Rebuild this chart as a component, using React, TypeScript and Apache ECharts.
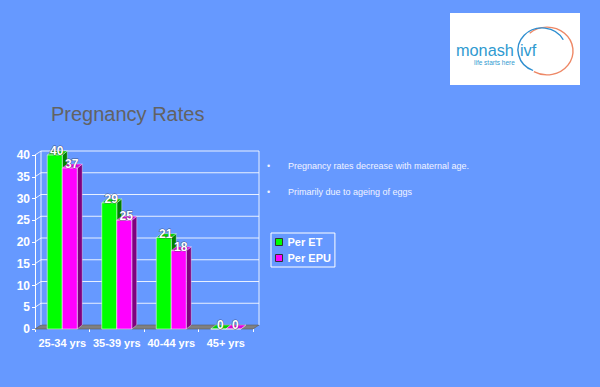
import React, { useEffect, useRef } from "react";
import * as echarts from "echarts";

const categories = ["25-34 yrs", "35-39 yrs", "40-44 yrs", "45+ yrs"];
const perET = [40, 29, 21, 0];
const perEPU = [37, 25, 18, 0];
const yTicks = [0, 5, 10, 15, 20, 25, 30, 35, 40];
const bullets = ["Pregnancy rates decrease with maternal age.", "Primarily due to ageing of eggs"];
const seriesNames = ["Per ET", "Per EPU"];

const FONT = 'Arial, "Liberation Sans", sans-serif';
const BG = "#6699FF";

function makeBarRender(offsetSide: number, front: string, top: string, side: string) {
  return (params: any, api: any) => {
    const idx = api.value(0);
    const val = api.value(1);
    const p0 = api.coord([idx, 0]);
    const p1 = api.coord([idx, val]);
    const cx = p0[0];
    const y0 = p0[1];
    const y1 = p1[1];
    const w = api.size([1, 0])[0] * (15 / 54.5);
    const left = offsetSide < 0 ? cx - w : cx;
    const dx = 5;
    const dy = -4;
    const stroke = "rgba(255,255,255,0.75)";
    return {
      type: "group",
      children: [
        {
          type: "polygon",
          shape: { points: [[left + w, y1], [left + w + dx, y1 + dy], [left + w + dx, y0 + dy], [left + w, y0]] },
          style: { fill: side, stroke, lineWidth: 0.5 },
        },
        {
          type: "polygon",
          shape: { points: [[left, y1], [left + w, y1], [left + w + dx, y1 + dy], [left + dx, y1 + dy]] },
          style: { fill: top, stroke, lineWidth: 0.5 },
        },
        {
          type: "rect",
          shape: { x: left, y: y1, width: w, height: y0 - y1 },
          style: { fill: front, stroke, lineWidth: 0.7 },
        },
        {
          type: "text",
          x: left + w / 2 + 2,
          y: y1 + 2,
          style: {
            text: String(val),
            fill: "#ffffff",
            font: `bold 12px ${FONT}`,
            align: "center",
            verticalAlign: "bottom",
            stroke: "rgba(40,40,40,0.6)",
            lineWidth: 1,
          },
          z2: 10,
        },
      ],
    };
  };
}

export default function App() {
  const ref = useRef<HTMLDivElement>(null);

  useEffect(() => {
    if (!ref.current) return;
    const chart = echarts.init(ref.current, null, { renderer: "svg" });
    const wallRender = (params: any, api: any) => {
      const v = api.value(0);
      const cs = params.coordSys;
      const x0 = cs.x;
      const x1 = cs.x + cs.width;
      const y = api.coord([0, v])[1];
      const yTop = api.coord([0, yTicks[yTicks.length - 1]])[1];
      const dx = 6;
      const dy = -4;
      const line = "rgba(255,255,255,0.85)";
      const children: any[] = [];
      if (v === 0) {
        children.push({
          type: "polygon",
          shape: { points: [[x0, y], [x1, y], [x1 + dx, y + dy], [x0 + dx, y + dy]] },
          style: { fill: "#808080", stroke: "#5a5a5a", lineWidth: 0.6 },
        });
        children.push({
          type: "line",
          shape: { x1: x0 + dx, y1: y + dy, x2: x0 + dx, y2: yTop + dy },
          style: { stroke: line, lineWidth: 1 },
        });
        children.push({
          type: "line",
          shape: { x1: x1 + dx, y1: y + dy, x2: x1 + dx, y2: yTop + dy },
          style: { stroke: line, lineWidth: 1 },
        });
      } else {
        children.push({
          type: "polyline",
          shape: { points: [[x0, y], [x0 + dx, y + dy], [x1 + dx, y + dy]] },
          style: { stroke: line, lineWidth: 1, fill: "none" },
        });
      }
      return { type: "group", children };
    };

    chart.setOption({
      animation: false,
      backgroundColor: BG,
      textStyle: { fontFamily: FONT },
      grid: { left: 35, right: 347, top: 155, bottom: 58, containLabel: false },
      legend: {
        data: seriesNames,
        orient: "vertical",
        left: 271,
        top: 233,
        padding: [2, 4, 2, 4],
        itemGap: 2,
        itemWidth: 7,
        itemHeight: 7,
        icon: "rect",
        borderColor: "#ffffff",
        borderWidth: 1,
        itemStyle: { borderColor: "#333333", borderWidth: 1 },
        textStyle: { color: "#ffffff", fontWeight: "bold", fontSize: 11, fontFamily: FONT, lineHeight: 14, padding: [0, 0, 0, 0] },
      },
      xAxis: {
        type: "category",
        data: categories,
        axisLine: { show: false },
        axisTick: { show: true, length: 3, interval: 0, lineStyle: { color: "#ffffff" } },
        axisLabel: { color: "#ffffff", fontWeight: "bold", fontSize: 11, fontFamily: FONT, margin: 8, interval: 0 },
        splitLine: { show: false },
      },
      yAxis: {
        type: "value",
        min: 0,
        max: 40,
        interval: 5,
        axisLine: { show: true, lineStyle: { color: "#ffffff" } },
        axisTick: { show: true, length: 3, lineStyle: { color: "#ffffff" } },
        axisLabel: { color: "#ffffff", fontWeight: "bold", fontSize: 12, fontFamily: FONT, margin: 5 },
        splitLine: { show: false },
      },
      graphic: [
        { type: "rect", shape: { x: 450, y: 13, width: 130, height: 72 }, style: { fill: "#ffffff" } },
        {
          type: "arc",
          x: 547,
          y: 51,
          scaleY: 0.92,
          shape: { cx: 0, cy: 0, r: 26, startAngle: -2.3, endAngle: 2.1, clockwise: true },
          style: { stroke: "#EE8866", lineWidth: 1.4, fill: "none" },
        },
        {
          type: "arc",
          x: 542,
          y: 50,
          scaleY: 0.92,
          shape: { cx: 0, cy: 0, r: 24, startAngle: 1.95, endAngle: 5.8, clockwise: true },
          style: { stroke: "#2F8FD0", lineWidth: 1.4, fill: "none" },
        },
        {
          type: "text",
          x: 456,
          y: 50,
          style: { text: "monash", fill: "#2F9AD0", font: `16.3px ${FONT}`, verticalAlign: "middle" },
        },
        {
          type: "text",
          x: 520,
          y: 50,
          style: { text: "ivf", fill: "#2F9AD0", font: `16.3px ${FONT}`, verticalAlign: "middle" },
        },
        {
          type: "text",
          x: 474,
          y: 62,
          style: { text: "life starts here", fill: "#2F9AD0", font: `6.5px ${FONT}`, verticalAlign: "middle" },
        },
        {
          type: "text",
          x: 51,
          y: 114,
          style: { text: "Pregnancy Rates", fill: "#626262", font: `20px ${FONT}`, verticalAlign: "middle" },
        },
        ...bullets.flatMap((t, i) => [
          {
            type: "text",
            x: 267,
            y: 166 + i * 26,
            style: { text: "•", fill: "#F2F4FF", font: `9px ${FONT}`, verticalAlign: "middle" },
          },
          {
            type: "text",
            x: 288,
            y: 166 + i * 26,
            style: { text: t, fill: "#F2F4FF", font: `9px ${FONT}`, verticalAlign: "middle" },
          },
        ]),
      ],
      series: [
        {
          type: "custom",
          name: "walls",
          renderItem: wallRender,
          data: yTicks.map((v) => [v]),
          encode: { y: 0 },
          silent: true,
          z: 1,
        },
        {
          type: "custom",
          name: seriesNames[0],
          itemStyle: { color: "#00FF00" },
          renderItem: makeBarRender(-1, "#00FF00", "#00D000", "#008000"),
          data: perET.map((v, i) => [i, v]),
          encode: { x: 0, y: 1 },
          z: 2,
        },
        {
          type: "custom",
          name: seriesNames[1],
          itemStyle: { color: "#FF00FF" },
          renderItem: makeBarRender(1, "#FF00FF", "#E000E0", "#800080"),
          data: perEPU.map((v, i) => [i, v]),
          encode: { x: 0, y: 1 },
          z: 3,
        },
      ],
    });
    return () => chart.dispose();
  }, []);

  return (
    <div
      ref={ref}
      style={{ position: "absolute", left: 0, top: 0, width: 600, height: 387, background: BG }}
    />
  );
}
